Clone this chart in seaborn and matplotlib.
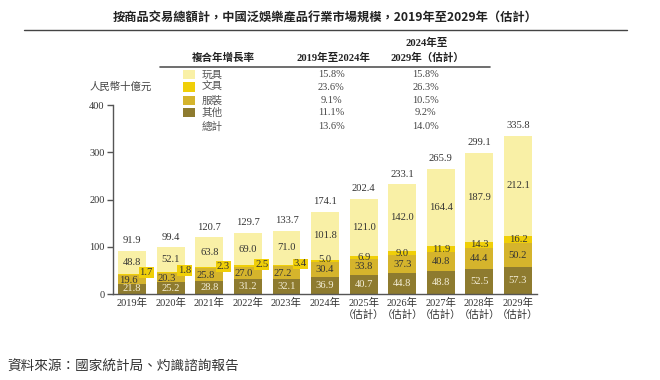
import numpy as np
import pandas as pd
import matplotlib
matplotlib.use("Agg")
import matplotlib.pyplot as plt
from matplotlib.patches import Rectangle
from matplotlib.lines import Line2D
import seaborn as sns

# data (人民幣十億元)
years = ["2019年", "2020年", "2021年", "2022年", "2023年", "2024年",
         "2025年\n（估計）", "2026年\n（估計）", "2027年\n（估計）",
         "2028年\n（估計）", "2029年\n（估計）"]
others = [21.8, 25.2, 28.8, 31.2, 32.1, 36.9, 40.7, 44.8, 48.8, 52.5, 57.3]
apparel = [19.6, 20.3, 25.8, 27.0, 27.2, 30.4, 33.8, 37.3, 40.8, 44.4, 50.2]
stationery = [1.7, 1.8, 2.3, 2.5, 3.4, 5.0, 6.9, 9.0, 11.9, 14.3, 16.2]
toys = [48.8, 52.1, 63.8, 69.0, 71.0, 101.8, 121.0, 142.0, 164.4, 187.9, 212.1]
totals = [91.9, 99.4, 120.7, 129.7, 133.7, 174.1, 202.4, 233.1, 265.9, 299.1, 335.8]

legend_names = ["玩具", "文具", "服裝", "其他", "總計"]
cagr_1924 = ["15.8%", "23.6%", "9.1%", "11.1%", "13.6%"]
cagr_2429 = ["15.8%", "26.3%", "10.5%", "9.2%", "14.0%"]

c_toys = "#F9F0A6"
c_stat = "#F0CF08"
c_app = "#D5B42C"
c_oth = "#8E7B2F"
colors = [c_toys, c_stat, c_app, c_oth]

serif = ["Liberation Serif", "Noto Sans CJK TC"]
cjk = ["Noto Sans CJK TC", "DejaVu Sans"]

sns.set_theme(style="white")
plt.rcParams["font.family"] = serif

df = pd.DataFrame({"year": years, "others": others, "apparel": apparel,
                   "stationery": stationery, "toys": toys})
df["c1"] = df["others"]
df["c2"] = df["c1"] + df["apparel"]
df["c3"] = df["c2"] + df["stationery"]
df["c4"] = df["c3"] + df["toys"]

fig = plt.figure(figsize=(6.6, 3.8), dpi=100)
ax = fig.add_axes([0.171, 0.226, 0.643, 0.497])

bw = 0.72
for col, c in zip(["c4", "c3", "c2", "c1"], colors):
    sns.barplot(data=df, x="year", y=col, color=c, width=bw,
                saturation=1, ax=ax, linewidth=0)

ax.set_xlim(-0.5, 10.5)
ax.set_ylim(0, 400)
ax.set_yticks([0, 100, 200, 300, 400])
ax.set_xlabel("")
ax.set_ylabel("")
sns.despine(ax=ax)
for s in ["left", "bottom"]:
    ax.spines[s].set_color("#555555")
    ax.spines[s].set_linewidth(1.0)
ax.tick_params(axis="y", length=4, width=1, color="#555555", labelsize=7.5,
               labelcolor="#333333", pad=2, direction="out", left=True)
ax.tick_params(axis="x", length=0, labelsize=7.5, labelcolor="#333333", pad=3)
for lab in ax.get_xticklabels():
    lab.set_family(serif)
    lab.set_linespacing(1.15)

fs = 7.6
for i in range(len(years)):
    ax.text(i, others[i] / 2, f"{others[i]:.1f}", ha="center", va="center",
            fontsize=fs, color="#F5EFD8")
    a_mid = others[i] + apparel[i] / 2
    s_mid = others[i] + apparel[i] + stationery[i] / 2
    if i < 5:
        ax.text(i - 0.1, a_mid - 2, f"{apparel[i]:.1f}", ha="center",
                va="center", fontsize=fs, color="#333333")
        ax.text(i + 0.36, s_mid + 3, f"{stationery[i]:.1f}", ha="center",
                va="center", fontsize=fs, color="#333333",
                bbox=dict(boxstyle="square,pad=0.08", fc=c_stat, ec="none"))
    elif i == 5:
        ax.text(i, a_mid + 1, f"{apparel[i]:.1f}", ha="center",
                va="center", fontsize=fs, color="#333333")
        ax.text(i, s_mid + 3, f"{stationery[i]:.1f}", ha="center",
                va="center", fontsize=fs, color="#333333")
    else:
        ax.text(i, a_mid, f"{apparel[i]:.1f}", ha="center",
                va="center", fontsize=fs, color="#333333")
        ax.text(i, s_mid, f"{stationery[i]:.1f}", ha="center",
                va="center", fontsize=fs, color="#333333")
    t_mid = others[i] + apparel[i] + stationery[i] + toys[i] / 2
    ax.text(i, t_mid, f"{toys[i]:.1f}", ha="center", va="center",
            fontsize=fs, color="#333333")
    ax.annotate(f"{totals[i]:.1f}", (i, totals[i]), xytext=(0, 4),
                textcoords="offset points", ha="center", va="bottom",
                fontsize=fs, color="#333333")

# title and rule
fig.text(0.492, 0.953, "按商品交易總額計，中國泛娛樂產品行業市場規模，2019年至2029年（估計）",
         ha="center", va="center", fontsize=8.8, family=cjk,
         fontweight="bold", color="#222222")
fig.add_artist(Line2D([0.036, 0.95], [0.921, 0.921], transform=fig.transFigure,
                      color="#444444", lw=1.0))

# CAGR table as legend
hdr_kw = dict(ha="center", va="center", fontsize=7.6, color="#222222",
              fontweight="bold", family=serif)
fig.text(0.338, 0.847, "複合年增長率", **hdr_kw)
fig.text(0.505, 0.847, "2019年至2024年", **hdr_kw)
fig.text(0.647, 0.887, "2024年至", **hdr_kw)
fig.text(0.647, 0.847, "2029年（估計）", **hdr_kw)
fig.add_artist(Line2D([0.242, 0.742], [0.824, 0.824], transform=fig.transFigure,
                      color="#555555", lw=1.2))

row_y = [0.803, 0.771, 0.735, 0.703, 0.666]
for k, y in enumerate(row_y):
    if k < 4:
        fig.add_artist(Rectangle((0.278, y - 0.012), 0.018, 0.024,
                                 transform=fig.transFigure, fc=colors[k],
                                 ec="none"))
    fig.text(0.306, y, legend_names[k], ha="left", va="center", fontsize=7.6,
             color="#555555", family=cjk)
    fig.text(0.502, y, cagr_1924[k], ha="center", va="center", fontsize=7.5,
             color="#444444")
    fig.text(0.645, y, cagr_2429[k], ha="center", va="center", fontsize=7.5,
             color="#444444")

fig.text(0.136, 0.771, "人民幣十億元", ha="left", va="center", fontsize=7.5,
         color="#444444", family=cjk, style="italic")

fig.text(0.011, 0.034, "資料來源：國家統計局、灼識諮詢報告", ha="left",
         va="center", fontsize=9.8, color="#333333", family=cjk,
         style="italic")

fig.savefig("out.png", dpi=100)
